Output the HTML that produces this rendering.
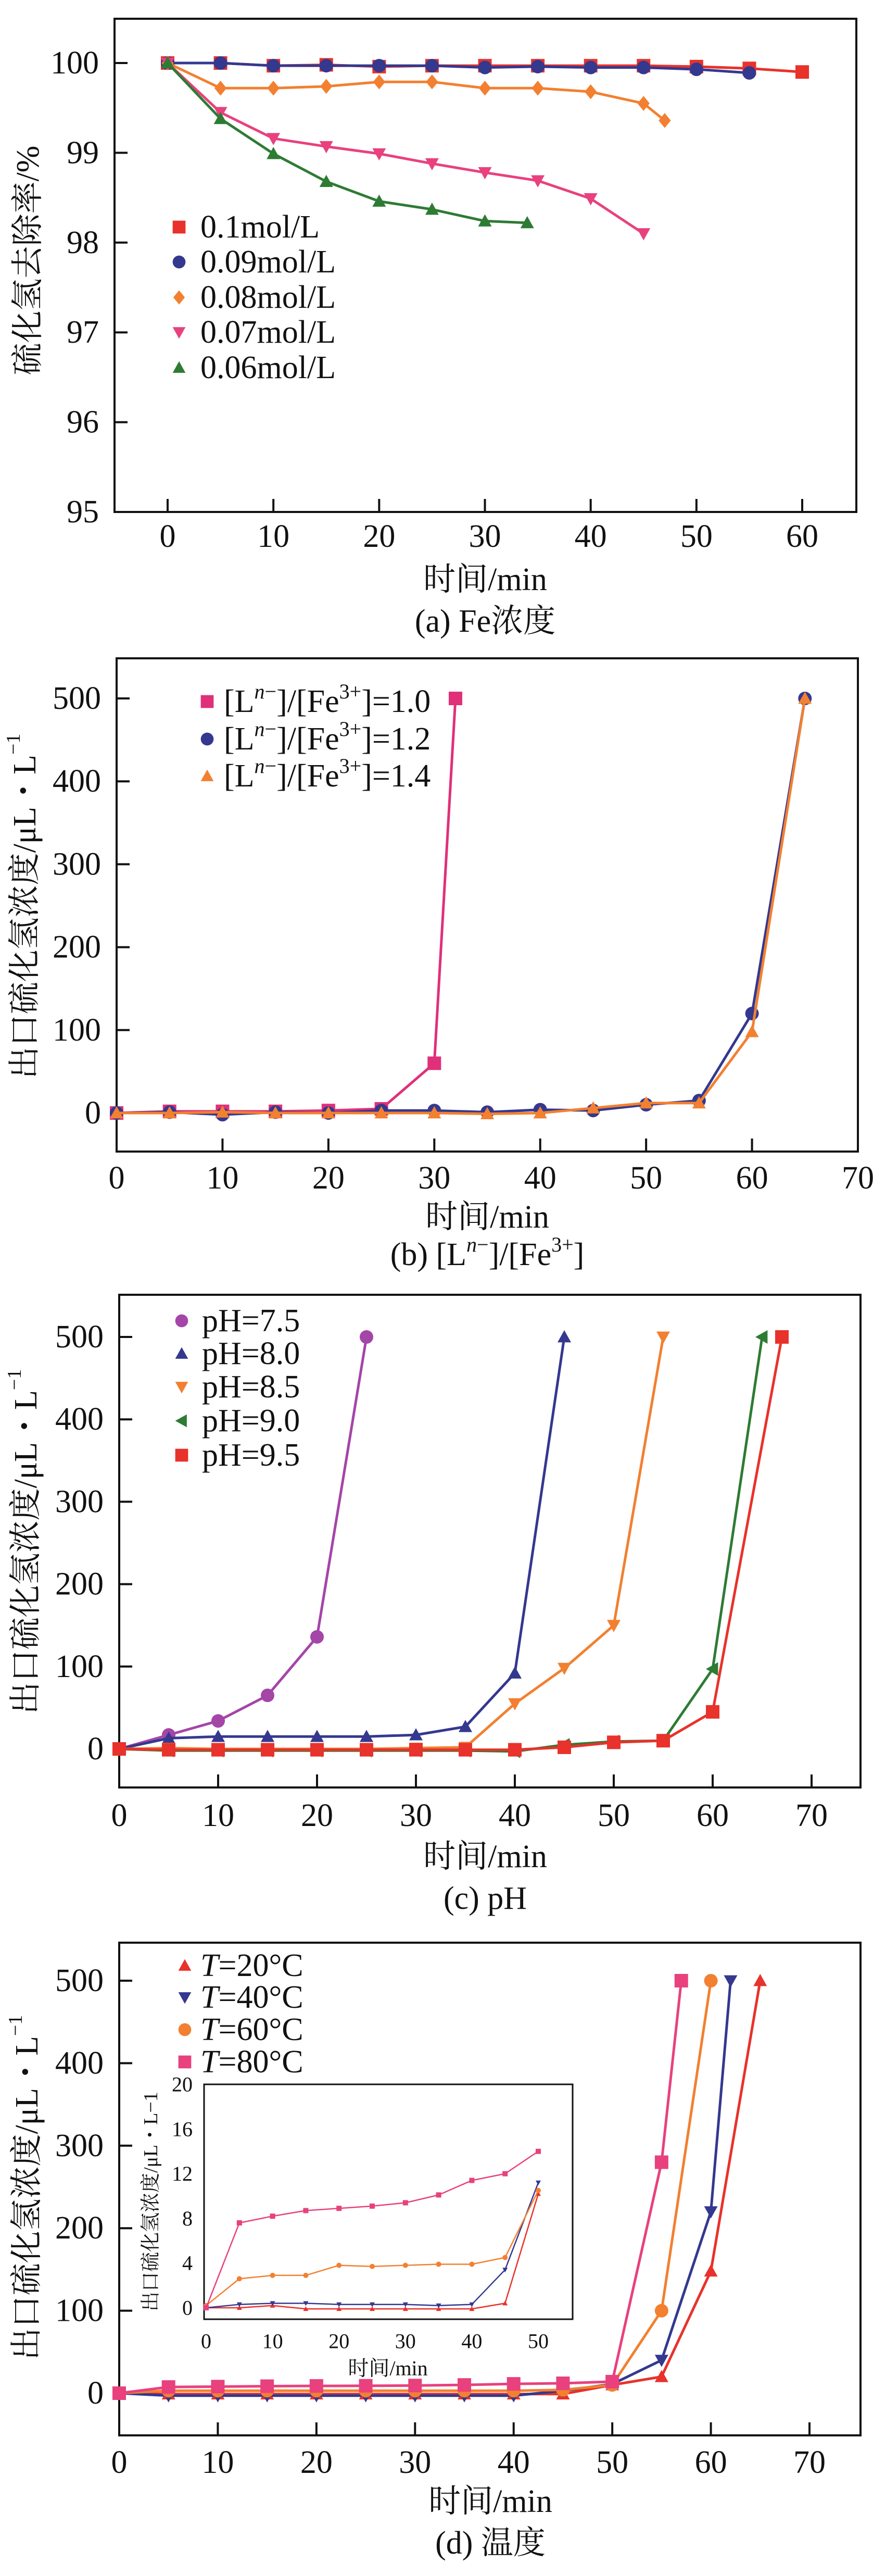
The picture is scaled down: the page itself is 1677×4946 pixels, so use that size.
<!DOCTYPE html>
<html><head><meta charset="utf-8"><style>
html,body{margin:0;padding:0;background:#fff;}
svg{display:block;}
text{font-family:"Liberation Serif","Noto Serif CJK SC",serif;fill:#111;}
</style></head><body>
<svg id="root" width="1677" height="4946" viewBox="0 0 1677 4946" xmlns="http://www.w3.org/2000/svg"></svg>
<script>
// ---- Chart (a) data ----
const aX1=[0,5,10,15,20,25,30,35,40,45,50,55,60];
const aY1=[100,100,99.97,99.98,99.96,99.97,99.97,99.97,99.97,99.97,99.96,99.94,99.9];
const aX2=[0,5,10,15,20,25,30,35,40,45,50,55];
const aY2=[100,100,99.97,99.97,99.97,99.97,99.95,99.96,99.95,99.95,99.93,99.89];
const aX3=[0,5,10,15,20,25,30,35,40,45,47];
const aY3=[100,99.72,99.72,99.74,99.79,99.79,99.72,99.72,99.68,99.55,99.36];
const aX4=[0,5,10,15,20,25,30,35,40,45];
const aY4=[100,99.45,99.16,99.07,98.99,98.88,98.78,98.69,98.49,98.1];
const aX5=[0,5,10,15,20,25,30,34];
const aY5=[100,99.38,98.99,98.68,98.46,98.37,98.24,98.22];
const aXTicks=[0,10,20,30,40,50,60];
const aYTicks=[95,96,97,98,99,100];
const aLegend=["0.1mol/L","0.09mol/L","0.08mol/L","0.07mol/L","0.06mol/L"];
// ---- Chart (b) data ----
const bX1=[0,5,10,15,20,25,30,32];
const bY1=[0,2,2,2,3,5,60,500];
const bX2=[0,5,10,15,20,25,30,35,40,45,50,55,60,65];
const bY2=[0,1,-2,1,0,3,3,1,4,3,10,15,120,500];
const bX3=[0,5,10,15,20,25,30,35,40,45,50,55,60,65];
const bY3=[0,0,1,0,0,0,0,-1,0,6,12,12,98,500];
const bXTicks=[0,10,20,30,40,50,60,70];
const bYTicks=[0,100,200,300,400,500];
// ---- Chart (c) data ----
const cX1=[0,5,10,15,20,25];
const cY1=[0,17,34,65,136,500];
const cX2=[0,5,10,15,20,25,30,35,40,45];
const cY2=[0,13,15,15,15,15,17,27,92,500];
const cX3=[0,5,10,15,20,25,30,35,40,45,50,55];
const cY3=[0,1,0,0,0,0,1,2,55,98,150,500];
const cX4=[0,5,10,15,20,25,30,35,40,45,50,55,60,65];
const cY4=[0,-2,-2,-2,-2,-2,-2,-2,-3,5,9,10,97,500];
const cX5=[0,5,10,15,20,25,30,35,40,45,50,55,60,67];
const cY5=[0,-1,-1,-1,-1,-1,-1,-1,-1,2,8,10,45,500];
const cXTicks=[0,10,20,30,40,50,60,70];
const cYTicks=[0,100,200,300,400,500];
const cLegend=["pH=7.5","pH=8.0","pH=8.5","pH=9.0","pH=9.5"];
// ---- Chart (d) data ----
const dX1=[0,5,10,15,20,25,30,35,40,45,50,55,60,65];
const dY1=[0,-1,-1,-1,-1,-1,-1,-1,-1,-1,10,20,148,500];
const dX2=[0,5,10,15,20,25,30,35,40,45,50,55,60,62];
const dY2=[0,-3,-3,-3,-3,-3,-3,-3,-3,3,11,40,220,500];
const dX3=[0,5,10,15,20,25,30,35,40,45,50,55,60];
const dY3=[0,3,3,3,3,3,3,3,3,4,10,100,500];
const dX4=[0,5,10,15,20,25,30,35,40,45,50,55,57];
const dY4=[0,7.5,8,8.5,8.8,9,9.3,10,11.3,12,14,280,500];
const dXTicks=[0,10,20,30,40,50,60,70];
const dYTicks=[0,100,200,300,400,500];
const dLegend=["=20°C","=40°C","=60°C","=80°C"];
// ---- Inset data ----
const iX=[0,5,10,15,20,25,30,35,40,45,50];
const iY20=[0,0,0.2,-0.1,-0.1,-0.1,-0.1,-0.1,-0.1,0.4,10.2];
const iY40=[0,0.3,0.4,0.4,0.3,0.3,0.3,0.2,0.3,3.4,11.2];
const iY60=[0.2,2.6,2.9,2.9,3.8,3.7,3.8,3.9,3.9,4.5,10.5];
const iY80=[0,7.6,8.2,8.7,8.9,9.1,9.4,10.1,11.4,12,14];
const iXTicks=[0,10,20,30,40,50];
const iYTicks=[0,4,8,12,16,20];

const NS="http://www.w3.org/2000/svg";
const root=document.getElementById('root');
function mk(tag,attrs,parent){const e=document.createElementNS(NS,tag);for(const k in attrs)e.setAttribute(k,attrs[k]);(parent||root).appendChild(e);return e;}
function marker(g,type,x,y,s,color){
  let e;const h=s/2;
  if(type==='square')e=mk('rect',{x:x-h,y:y-h,width:s,height:s,fill:color},g);
  else if(type==='circle')e=mk('circle',{cx:x,cy:y,r:h,fill:color},g);
  else if(type==='diamond')e=mk('polygon',{points:`${x},${y-h*1.1} ${x+h*0.9},${y} ${x},${y+h*1.1} ${x-h*0.9},${y}`,fill:color},g);
  else if(type==='up')e=mk('polygon',{points:`${x},${y-h} ${x+h},${y+h*0.8} ${x-h},${y+h*0.8}`,fill:color},g);
  else if(type==='down')e=mk('polygon',{points:`${x},${y+h} ${x+h},${y-h*0.8} ${x-h},${y-h*0.8}`,fill:color},g);
  else if(type==='left')e=mk('polygon',{points:`${x-h},${y} ${x+h*0.8},${y-h} ${x+h*0.8},${y+h}`,fill:color},g);
  return e;
}
function chart(o){
  const g=mk('g',{});
  
  
  const sx=v=>o.x0px+(v-o.xmin)*(o.x1px-o.x0px)/(o.xmax-o.xmin);
  const sy=v=>o.y0px+(v-o.ymin)*(o.y1px-o.y0px)/(o.ymax-o.ymin);
  const box=mk('rect',{x:o.L,y:o.T,width:o.R-o.L,height:o.B-o.T,fill:'none',stroke:'#111','stroke-width':o.sw||4},g);
  
  
  o.xticks.forEach(v=>{
    const x=sx(v);
    if(o.xtickMarks!==false&&x>o.L+2&&x<o.R-2){const t=mk('line',{x1:x,x2:x,y1:o.B,y2:o.B-o.tl,stroke:'#111','stroke-width':o.sw||4},g);}
    const t=mk('text',{x:x,y:o.xlabY,'font-size':o.fs,'text-anchor':'middle','dominant-baseline':'central'},g);t.textContent=v;
    
    
  });
  o.yticks.forEach(v=>{
    const y=sy(v);
    const l=mk('line',{x1:o.L,x2:o.L+o.tl,y1:y,y2:y,stroke:'#111','stroke-width':o.sw||4},g);
    
    
    const t=mk('text',{x:o.L-o.ygap,y:y,'font-size':o.fs,'text-anchor':'end','dominant-baseline':'central'},g);t.textContent=v;
    
    
  });
  o.series.forEach(s=>{
    const sg=mk('g',{},g);
    
    
    const pts=s.x.map((v,i)=>sx(v)+','+sy(s.y[i])).join(' ');
    mk('polyline',{points:pts,fill:'none',stroke:s.color,'stroke-width':o.lw,'stroke-linejoin':'round'},sg);
    s.x.forEach((v,i)=>{const m=marker(sg,s.m,sx(v),sy(s.y[i]),o.ms,s.color);});
  });
  if(o.xtitle){const t=mk('text',{x:o.xtitleX,y:o.xtitleY,'font-size':o.fs,'text-anchor':'middle','dominant-baseline':'central'},g);t.textContent=o.xtitle;}
  if(o.ytitle){const t=mk('text',{x:0,y:0,'font-size':o.yfs||o.fs,'text-anchor':'middle','dominant-baseline':'central',transform:`translate(${o.ytitleX},${o.ytitleY}) rotate(-90)`},g);t.innerHTML=o.ytitle;}
  if(o.caption){const t=mk('text',{x:o.capX,y:o.capY,'font-size':o.fs,'text-anchor':'middle','dominant-baseline':'central'},g);t.innerHTML=o.caption;}
  if(o.legend){o.legend.forEach((l,i)=>{
    const y=o.legY[i];
    const lg=mk('g',{},g);
    
    
    marker(lg,o.series[i].m,o.legMX,y,o.ms*0.95,o.series[i].color);
    const t=mk('text',{x:o.legTX,y:y,'font-size':o.fs,'dominant-baseline':'central'},lg);t.innerHTML=l;
  });}
  return g;
}
const RED='#e8322b',NAVY='#34388f',ORANGE='#f28030',PINK='#e8417e',GREEN='#2e7b34',PURPLE='#a445a8',MAG='#e0307a';
const YT2='出口硫化氢浓度/μL・L<tspan dy="-22" font-size="38">−1</tspan>';
// (a)
chart({name:'chart-a-fe-concentration',L:220,R:1645,T:36,B:983,x0px:322,x1px:1541,xmin:0,xmax:60,y0px:983,y1px:121,ymin:95,ymax:100,
  xticks:aXTicks,yticks:aYTicks,tl:25,fs:62,ygap:30,xlabY:1030,lw:5,ms:26,
  xtitle:'时间/min',xtitleX:932,xtitleY:1113,ytitle:'硫化氢去除率/%',ytitleX:54,ytitleY:500,caption:'(a) Fe浓度',capX:932,capY:1193,
  legend:aLegend,legY:[436,503,571,638,706],legMX:344,legTX:385,
  series:[{name:'series-0.1mol',x:aX1,y:aY1,color:RED,m:'square'},{name:'series-0.09mol',x:aX2,y:aY2,color:NAVY,m:'circle'},{name:'series-0.08mol',x:aX3,y:aY3,color:ORANGE,m:'diamond'},{name:'series-0.07mol',x:aX4,y:aY4,color:PINK,m:'down'},{name:'series-0.06mol',x:aX5,y:aY5,color:GREEN,m:'up'}]});
// (b)
chart({name:'chart-b-ligand-ratio',L:224,R:1648,T:1264,B:2211,x0px:224,x1px:1648,xmin:0,xmax:70,y0px:2137,y1px:1341,ymin:0,ymax:500,
  xticks:bXTicks,yticks:bYTicks,tl:25,fs:62,ygap:30,xlabY:2262,lw:5,ms:26,
  xtitle:'时间/min',xtitleX:936,xtitleY:2337,ytitle:YT2,ytitleX:48,ytitleY:1740,caption:'(b) [L<tspan dy="-20" font-size="40" font-style="italic">n</tspan><tspan dy="0" font-size="40">−</tspan><tspan dy="20">]/[Fe</tspan><tspan dy="-20" font-size="40">3+</tspan><tspan dy="20">]</tspan>',capX:936,capY:2409,
  legend:['[L<tspan dy="-20" font-size="40" font-style="italic">n</tspan><tspan font-size="40">−</tspan><tspan dy="20">]/[Fe</tspan><tspan dy="-20" font-size="40">3+</tspan><tspan dy="20">]=1.0</tspan>','[L<tspan dy="-20" font-size="40" font-style="italic">n</tspan><tspan font-size="40">−</tspan><tspan dy="20">]/[Fe</tspan><tspan dy="-20" font-size="40">3+</tspan><tspan dy="20">]=1.2</tspan>','[L<tspan dy="-20" font-size="40" font-style="italic">n</tspan><tspan font-size="40">−</tspan><tspan dy="20">]/[Fe</tspan><tspan dy="-20" font-size="40">3+</tspan><tspan dy="20">]=1.4</tspan>'],
  legY:[1347,1419,1490],legMX:398,legTX:430,
  series:[{name:'series-ratio-1.0',x:bX1,y:bY1,color:MAG,m:'square'},{name:'series-ratio-1.2',x:bX2,y:bY2,color:NAVY,m:'circle'},{name:'series-ratio-1.4',x:bX3,y:bY3,color:ORANGE,m:'up'}]});
// (c)
chart({name:'chart-c-ph',L:229,R:1653,T:2486,B:3432,x0px:229,x1px:1559,xmin:0,xmax:70,y0px:3358,y1px:2567,ymin:0,ymax:500,
  xticks:cXTicks,yticks:cYTicks,tl:25,fs:62,ygap:30,xlabY:3486,lw:5,ms:26,
  xtitle:'时间/min',xtitleX:932,xtitleY:3565,ytitle:YT2,ytitleX:50,ytitleY:2960,caption:'(c) pH',capX:932,capY:3645,
  legend:cLegend,legY:[2536,2599,2663,2728,2794],legMX:349,legTX:388,
  series:[{name:'series-ph-7.5',x:cX1,y:cY1,color:PURPLE,m:'circle'},{name:'series-ph-8.0',x:cX2,y:cY2,color:NAVY,m:'up'},{name:'series-ph-8.5',x:cX3,y:cY3,color:ORANGE,m:'down'},{name:'series-ph-9.0',x:cX4,y:cY4,color:GREEN,m:'left'},{name:'series-ph-9.5',x:cX5,y:cY5,color:RED,m:'square'}]});
// (d)
chart({name:'chart-d-temperature',L:229,R:1653,T:3730,B:4676,x0px:229,x1px:1555,xmin:0,xmax:70,y0px:4595,y1px:3803,ymin:0,ymax:500,
  xticks:dXTicks,yticks:dYTicks,tl:25,fs:62,ygap:30,xlabY:4728,lw:5,ms:26,
  xtitle:'时间/min',xtitleX:942,xtitleY:4803,ytitle:YT2,ytitleX:52,ytitleY:4200,caption:'(d)  温度',capX:942,capY:4883,
  legend:dLegend.map(s=>'<tspan font-style="italic">T</tspan>'+s),legY:[3774,3835,3897,3959],legMX:355,legTX:385,
  series:[{name:'series-20C',x:dX1,y:dY1,color:RED,m:'up'},{name:'series-40C',x:dX2,y:dY2,color:NAVY,m:'down'},{name:'series-60C',x:dX3,y:dY3,color:ORANGE,m:'circle'},{name:'series-80C',x:dX4,y:dY4,color:PINK,m:'square'}]});
// inset background
const bg=mk('rect',{x:392,y:4002,width:708,height:451,fill:'#fff'});


chart({name:'inset-chart',L:392,R:1100,T:4002,B:4453,x0px:396,x1px:1034,xmin:0,xmax:50,y0px:4431,y1px:4002,ymin:0,ymax:20,
  xticks:iXTicks,yticks:iYTicks,tl:0,fs:40,ygap:22,xlabY:4495,lw:2.5,ms:10,sw:3,xtickMarks:false,
  xtitle:'时间/min',xtitleX:745,xtitleY:4547,ytitle:'出口硫化氢浓度/μL・L−1',yfs:38,ytitleX:290,ytitleY:4227,
  series:[{name:'inset-series-20C',x:iX,y:iY20,color:RED,m:'up'},{name:'inset-series-40C',x:iX,y:iY40,color:NAVY,m:'down'},{name:'inset-series-60C',x:iX,y:iY60,color:ORANGE,m:'circle'},{name:'inset-series-80C',x:iX,y:iY80,color:PINK,m:'square'}]});
</script>
</body></html>
